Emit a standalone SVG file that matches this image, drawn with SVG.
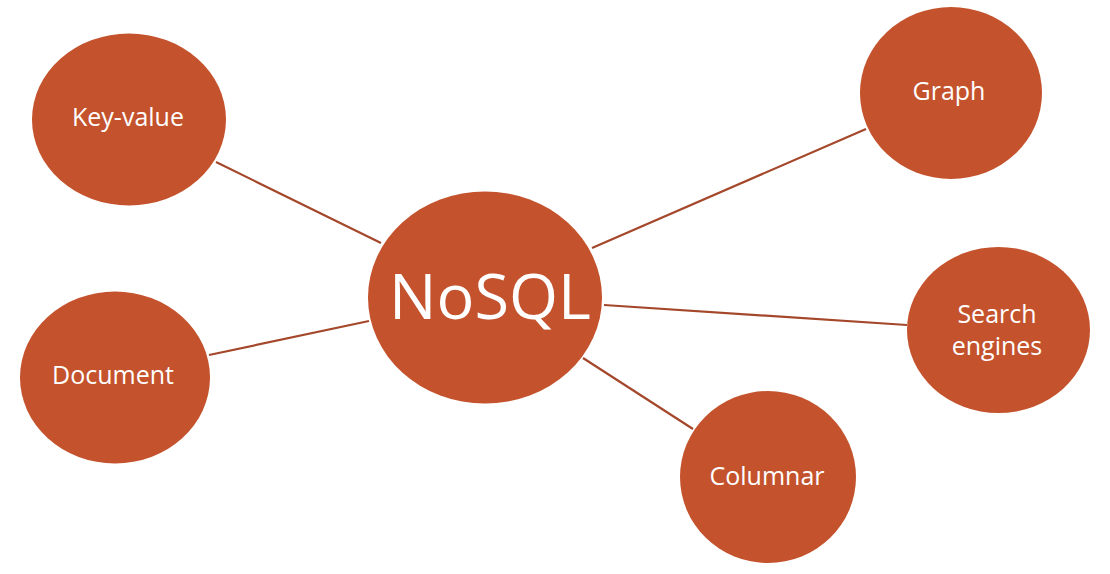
<svg xmlns="http://www.w3.org/2000/svg" width="1110" height="574" viewBox="0 0 1110 574">
<style>
.node{fill:#C4522C;}
.lbl{fill:#FFFFFF;font-family:"Open Sans","Noto Sans","Liberation Sans",sans-serif;font-size:25px;font-weight:500;text-anchor:middle;}
.big{font-size:63px;font-weight:400;}
.conn line{stroke:#A4472A;stroke-width:2.2;}
</style>
<rect width="1110" height="574" fill="#FFFFFF"/>
<g id="connectors" class="conn">
<line x1="216" y1="162" x2="381" y2="243"/>
<line x1="209" y1="355" x2="369" y2="321"/>
<line x1="592" y1="248" x2="866" y2="129"/>
<line x1="604" y1="305" x2="907" y2="325"/>
<line x1="583" y1="358" x2="693" y2="429"/>
</g>
<g id="nosql">
<ellipse class="node" cx="485" cy="297.5" rx="117" ry="106"/>
<text class="lbl big" x="490" y="319">NoSQL</text>
</g>
<g id="keyvalue">
<ellipse class="node" cx="129" cy="119.5" rx="97" ry="86"/>
<text class="lbl" x="128" y="126">Key-value</text>
</g>
<g id="document">
<ellipse class="node" cx="115" cy="377.5" rx="95" ry="86"/>
<text class="lbl" x="113" y="384">Document</text>
</g>
<g id="graph">
<ellipse class="node" cx="951" cy="93" rx="91" ry="86"/>
<text class="lbl" x="949" y="100">Graph</text>
</g>
<g id="search">
<ellipse class="node" cx="998.5" cy="330" rx="91.5" ry="83"/>
<text class="lbl" x="997" y="323">Search</text>
<text class="lbl" x="997" y="355">engines</text>
</g>
<g id="columnar">
<ellipse class="node" cx="768" cy="477" rx="88" ry="86"/>
<text class="lbl" x="767" y="485">Columnar</text>
</g>
</svg>
